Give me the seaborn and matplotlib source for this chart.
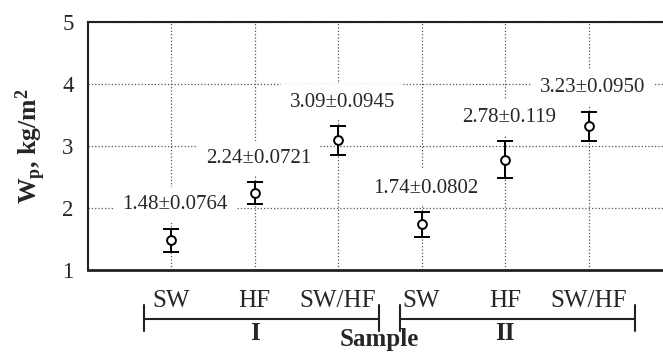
import matplotlib
matplotlib.use('Agg')
import matplotlib.pyplot as plt
import seaborn as sns
import pandas as pd

# data
samples = ['SW', 'HF', 'SW/HF', 'SW', 'HF', 'SW/HF']
groups = ['I', 'I', 'I', 'II', 'II', 'II']
wp = [1.48, 2.24, 3.09, 1.74, 2.78, 3.32]
err = [0.19, 0.18, 0.235, 0.20, 0.30, 0.235]
labels = ['1.48±0.0764', '2.24±0.0721', '3.09±0.0945',
          '1.74±0.0802', '2.78±0.119', '3.23±0.0950']

sns.set_theme(style='white')
plt.rcParams['font.family'] = ['Liberation Serif', 'DejaVu Serif']
plt.rcParams['mathtext.fontset'] = 'custom'
plt.rcParams['mathtext.rm'] = 'Liberation Serif:bold'
plt.rcParams['mathtext.it'] = 'Liberation Serif:bold'
plt.rcParams['mathtext.bf'] = 'Liberation Serif:bold'

df = pd.DataFrame({'pos': range(1, len(samples) + 1), 'wp': wp, 'err': err,
                   'sample': samples, 'group': groups, 'label': labels})

fig = plt.figure(figsize=(6.63, 3.54), dpi=100)
ax = fig.add_axes([0.132, 0.237, 0.8816, 0.7014])

ax.errorbar(df['pos'], df['wp'], yerr=df['err'], fmt='none', ecolor='black',
            elinewidth=1.4, capsize=6, capthick=1.4, zorder=3)
sns.scatterplot(data=df, x='pos', y='wp', marker='o', s=40, facecolor='white',
                edgecolor='black', linewidth=1.4, zorder=4, ax=ax)

for _, r in df.iterrows():
    ax.annotate(r['label'], (r['pos'], r['wp'] + r['err']), xytext=(3, 17),
                textcoords='offset points', ha='center', va='center', fontsize=15,
                bbox=dict(boxstyle='square,pad=0.4', fc='white', ec='none'), zorder=5)

ax.set_xlim(0, 7)
ax.set_ylim(1, 5)
ax.set_xticks(df['pos'])
ax.set_xticklabels(df['sample'], fontsize=18)
ax.set_yticks([1, 2, 3, 4, 5])
ax.tick_params(axis='x', length=0, pad=14)
ax.tick_params(axis='y', length=0, pad=10, labelsize=16.5)
ax.set_xlabel('')
ax.set_ylabel('')
ax.grid(True, linestyle=':', color='#555555', linewidth=0.9)
ax.set_axisbelow(True)
ax.spines['right'].set_visible(False)
for s in ['left', 'top', 'bottom']:
    ax.spines[s].set_color('#222222')
    ax.spines[s].set_linewidth(1.5)
ax.spines['bottom'].set_linewidth(2)

fig.text(31 / 663, 0.5 + (354 / 2 - 146) / 354, 'W$_\\mathrm{p}$, kg/m$^\\mathrm{2}$',
         rotation=90, ha='center', va='center', fontsize=18.5, fontweight='bold')

# group brackets under the sample labels
tr = ax.get_xaxis_transform()
brackets = {'I': (0.68, 3.49), 'II': (3.74, 6.56)}
for g, (x0, x1) in brackets.items():
    ax.plot([x0, x1], [-0.197, -0.197], color='#222222', lw=1.5, transform=tr, clip_on=False)
    for xe in (x0, x1):
        ax.plot([xe, xe], [-0.141, -0.245], color='#222222', lw=1.5, transform=tr, clip_on=False)
    xc = df.loc[df['group'] == g, 'pos'].mean()
    ax.text(xc, -0.254, g, transform=tr, ha='center', va='center',
            fontsize=18, fontweight='bold')
ax.text(3.5, -0.280, 'Sample', transform=tr, ha='center', va='center',
        fontsize=18, fontweight='bold')

fig.savefig('out.png', dpi=100)
